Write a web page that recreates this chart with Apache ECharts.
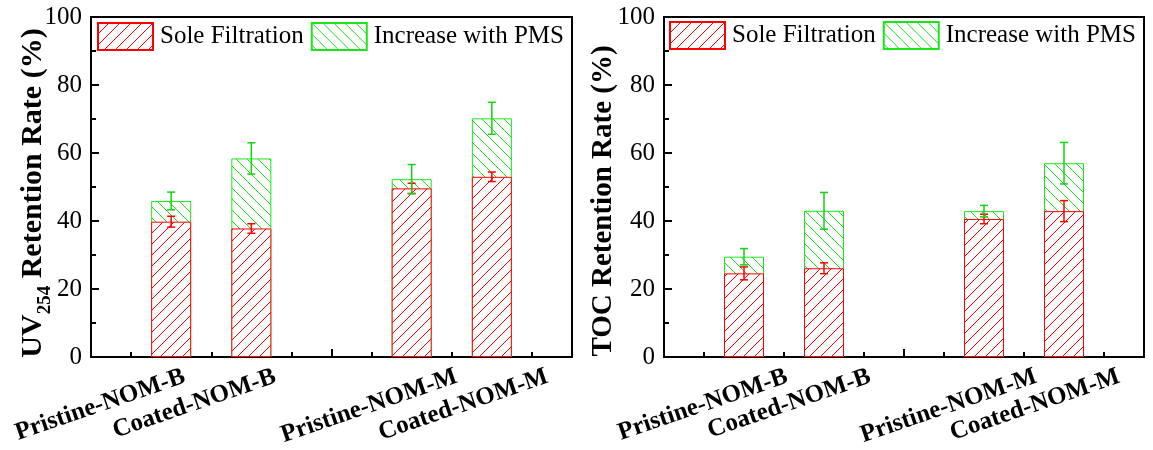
<!DOCTYPE html>
<html>
<head>
<meta charset="utf-8">
<script src="https://cdn.jsdelivr.net/npm/echarts@6/dist/echarts.min.js"></script>
<style>html,body{margin:0;padding:0;background:#fff;}#c{width:1153px;height:450px;}</style>
</head>
<body>
<div id="c"></div>
<script>
const categories = ['Pristine-NOM-B', 'Coated-NOM-B', 'Pristine-NOM-M', 'Coated-NOM-M'];
const positions = [1, 2, 4, 5];
const seriesNames = ['Sole Filtration', 'Increase with PMS'];
const yTicks = [0, 20, 40, 60, 80, 100];

const uvSole = [39.8, 37.8, 49.6, 53.0];
const uvSoleErr = [1.6, 1.4, 1.5, 1.4];
const uvIncrease = [6.1, 20.6, 2.7, 17.2];
const uvIncreaseErr = [2.6, 4.6, 4.3, 4.7];

const tocSole = [24.6, 26.1, 40.6, 42.9];
const tocSoleErr = [1.9, 1.6, 1.4, 3.1];
const tocIncrease = [4.9, 16.9, 2.3, 14.1];
const tocIncreaseErr = [2.4, 5.4, 1.7, 6.1];

const FONT = 'Liberation Serif';
const RED = '#ff0000';
const GREEN = '#19e619';
const GREEN_ERR = '#14d214';

function hatch(color, dir) {
  const s = 11;
  const c = document.createElement('canvas');
  c.width = s; c.height = s;
  const g = c.getContext('2d');
  g.fillStyle = '#fff';
  g.fillRect(0, 0, s, s);
  g.strokeStyle = color;
  g.lineWidth = 1;
  g.beginPath();
  if (dir === '/') {
    g.moveTo(-1, s + 1); g.lineTo(s + 1, -1);
    g.moveTo(-1, 1); g.lineTo(1, -1);
    g.moveTo(s - 1, s + 1); g.lineTo(s + 1, s - 1);
  } else {
    g.moveTo(-1, -1); g.lineTo(s + 1, s + 1);
    g.moveTo(s - 1, -1); g.lineTo(s + 1, 1);
    g.moveTo(-1, s - 1); g.lineTo(1, s + 1);
  }
  g.stroke();
  return { image: c, repeat: 'repeat' };
}
const redPattern = hatch(RED, '/');
const greenPattern = hatch(GREEN, '\\');

const grids = [
  { left: 91, top: 17, width: 481, height: 340, show: true, borderColor: '#000', borderWidth: 2, backgroundColor: 'transparent' },
  { left: 664, top: 17, width: 480, height: 340, show: true, borderColor: '#000', borderWidth: 2, backgroundColor: 'transparent' }
];

function mainX(gi) {
  return {
    type: 'value', gridIndex: gi, min: 0, max: 6, interval: 1, position: 'bottom',
    axisLine: { show: true, onZero: false, lineStyle: { color: '#000', width: 2 } },
    axisTick: { show: true, inside: true, length: 8, lineStyle: { color: '#000', width: 2 } },
    minorTick: { show: true, splitNumber: 2, length: 5, lineStyle: { color: '#000', width: 2 } },
    axisLabel: { show: false },
    splitLine: { show: false }, minorSplitLine: { show: false }
  };
}
function labelX(gi, mn, mx) {
  return {
    type: 'value', gridIndex: gi, min: mn, max: mx, position: 'bottom', offset: 0,
    axisLine: { show: false }, axisTick: { show: false }, splitLine: { show: false },
    axisLabel: {
      show: true, customValues: positions, rotate: 19, margin: 19,
      fontFamily: FONT, fontSize: 25, fontWeight: 'bold', color: '#000',
      formatter: v => categories[positions.indexOf(Math.round(v))] || ''
    }
  };
}
function yAx(gi, name, rich, gap, pad, fs) {
  const ax = {
    type: 'value', gridIndex: gi, min: 0, max: 100, interval: 20,
    axisLine: { show: true, lineStyle: { color: '#000', width: 2 } },
    axisTick: { show: true, inside: true, length: 8, lineStyle: { color: '#000', width: 2 } },
    minorTick: { show: true, splitNumber: 2, length: 5, lineStyle: { color: '#000', width: 2 } },
    axisLabel: { fontFamily: FONT, fontSize: 25, color: '#000', margin: 9, customValues: yTicks },
    splitLine: { show: false },
    name: name, nameLocation: 'middle', nameGap: gap, nameMoveOverlap: false,
    nameTextStyle: { fontFamily: FONT, fontSize: fs, fontWeight: 'bold', color: '#000', padding: pad }
  };
  if (rich) ax.nameTextStyle.rich = rich;
  return ax;
}

const uvRich = {
  m: { fontFamily: FONT, fontSize: 30, fontWeight: 'bold', color: '#000', lineHeight: 30, verticalAlign: 'top' },
  s: { fontFamily: FONT, fontSize: 19, fontWeight: 'bold', color: '#000', lineHeight: 19, verticalAlign: 'top', padding: [18, 0, 0, 0] }
};

// Green bar = sole + increase (drawn behind), red bar = sole (drawn in front): visual stack
function barSeries(name, xi, yi, base, add, pattern, border, z) {
  return {
    type: 'bar', name: name, xAxisIndex: xi, yAxisIndex: yi,
    barWidth: 40, barGap: '-100%',
    data: base.map((v, i) => [positions[i], v + (add ? add[i] : 0)]),
    itemStyle: { color: pattern, borderColor: border, borderWidth: 1 },
    emphasis: { disabled: true }, z: z
  };
}
function errSeries(xi, yi, base, add, errs, color) {
  return {
    type: 'custom', xAxisIndex: xi, yAxisIndex: yi, z: 5, silent: true,
    data: base.map((b, i) => {
      const c = b + (add ? add[i] : 0);
      return [positions[i], c - errs[i], c + errs[i]];
    }),
    encode: { x: 0, y: [1, 2] },
    renderItem: (params, api) => {
      const x = api.value(0);
      const p1 = api.coord([x, api.value(2)]);
      const p2 = api.coord([x, api.value(1)]);
      const hw = 4;
      const st = { stroke: color, lineWidth: 1.5, fill: null };
      return { type: 'group', children: [
        { type: 'line', shape: { x1: p1[0], y1: p1[1], x2: p2[0], y2: p2[1] }, style: st },
        { type: 'line', shape: { x1: p1[0] - hw, y1: p1[1], x2: p1[0] + hw, y2: p1[1] }, style: st },
        { type: 'line', shape: { x1: p2[0] - hw, y1: p2[1], x2: p2[0] + hw, y2: p2[1] }, style: st }
      ]};
    }
  };
}

function legend(left, top) {
  return {
    data: seriesNames, left: left, top: top, padding: 0, orient: 'horizontal',
    itemWidth: 55, itemHeight: 27, itemGap: 7, icon: 'rect', selectedMode: false,
    textStyle: { fontFamily: FONT, fontSize: 25, color: '#000', padding: [0, 0, 0, 2] }
  };
}

const option = {
  animation: false,
  backgroundColor: '#fff',
  grid: grids,
  legend: [legend(97, 22), legend(669, 21)],
  xAxis: [mainX(0), labelX(0, -0.028, 5.272), mainX(1), labelX(1, -0.482, 5.301)],
  yAxis: [
    yAx(0, '{m|UV}{s|254}{m| Retention Rate (%)}', uvRich, 43, [0, 12, 0, 0], 30),
    yAx(1, 'TOC Retention Rate (%)', null, 46, [0, 28, 0, 0], 29)
  ],
  series: [
    barSeries(seriesNames[1], 0, 0, uvSole, uvIncrease, greenPattern, GREEN, 2),
    barSeries(seriesNames[0], 0, 0, uvSole, null, redPattern, RED, 3),
    errSeries(0, 0, uvSole, null, uvSoleErr, RED),
    errSeries(0, 0, uvSole, uvIncrease, uvIncreaseErr, GREEN_ERR),
    barSeries(seriesNames[1], 2, 1, tocSole, tocIncrease, greenPattern, GREEN, 2),
    barSeries(seriesNames[0], 2, 1, tocSole, null, redPattern, RED, 3),
    errSeries(2, 1, tocSole, null, tocSoleErr, RED),
    errSeries(2, 1, tocSole, tocIncrease, tocIncreaseErr, GREEN_ERR)
  ]
};

const chart = echarts.init(document.getElementById('c'), null, { renderer: 'canvas' });
chart.setOption(option);
</script>
</body>
</html>
